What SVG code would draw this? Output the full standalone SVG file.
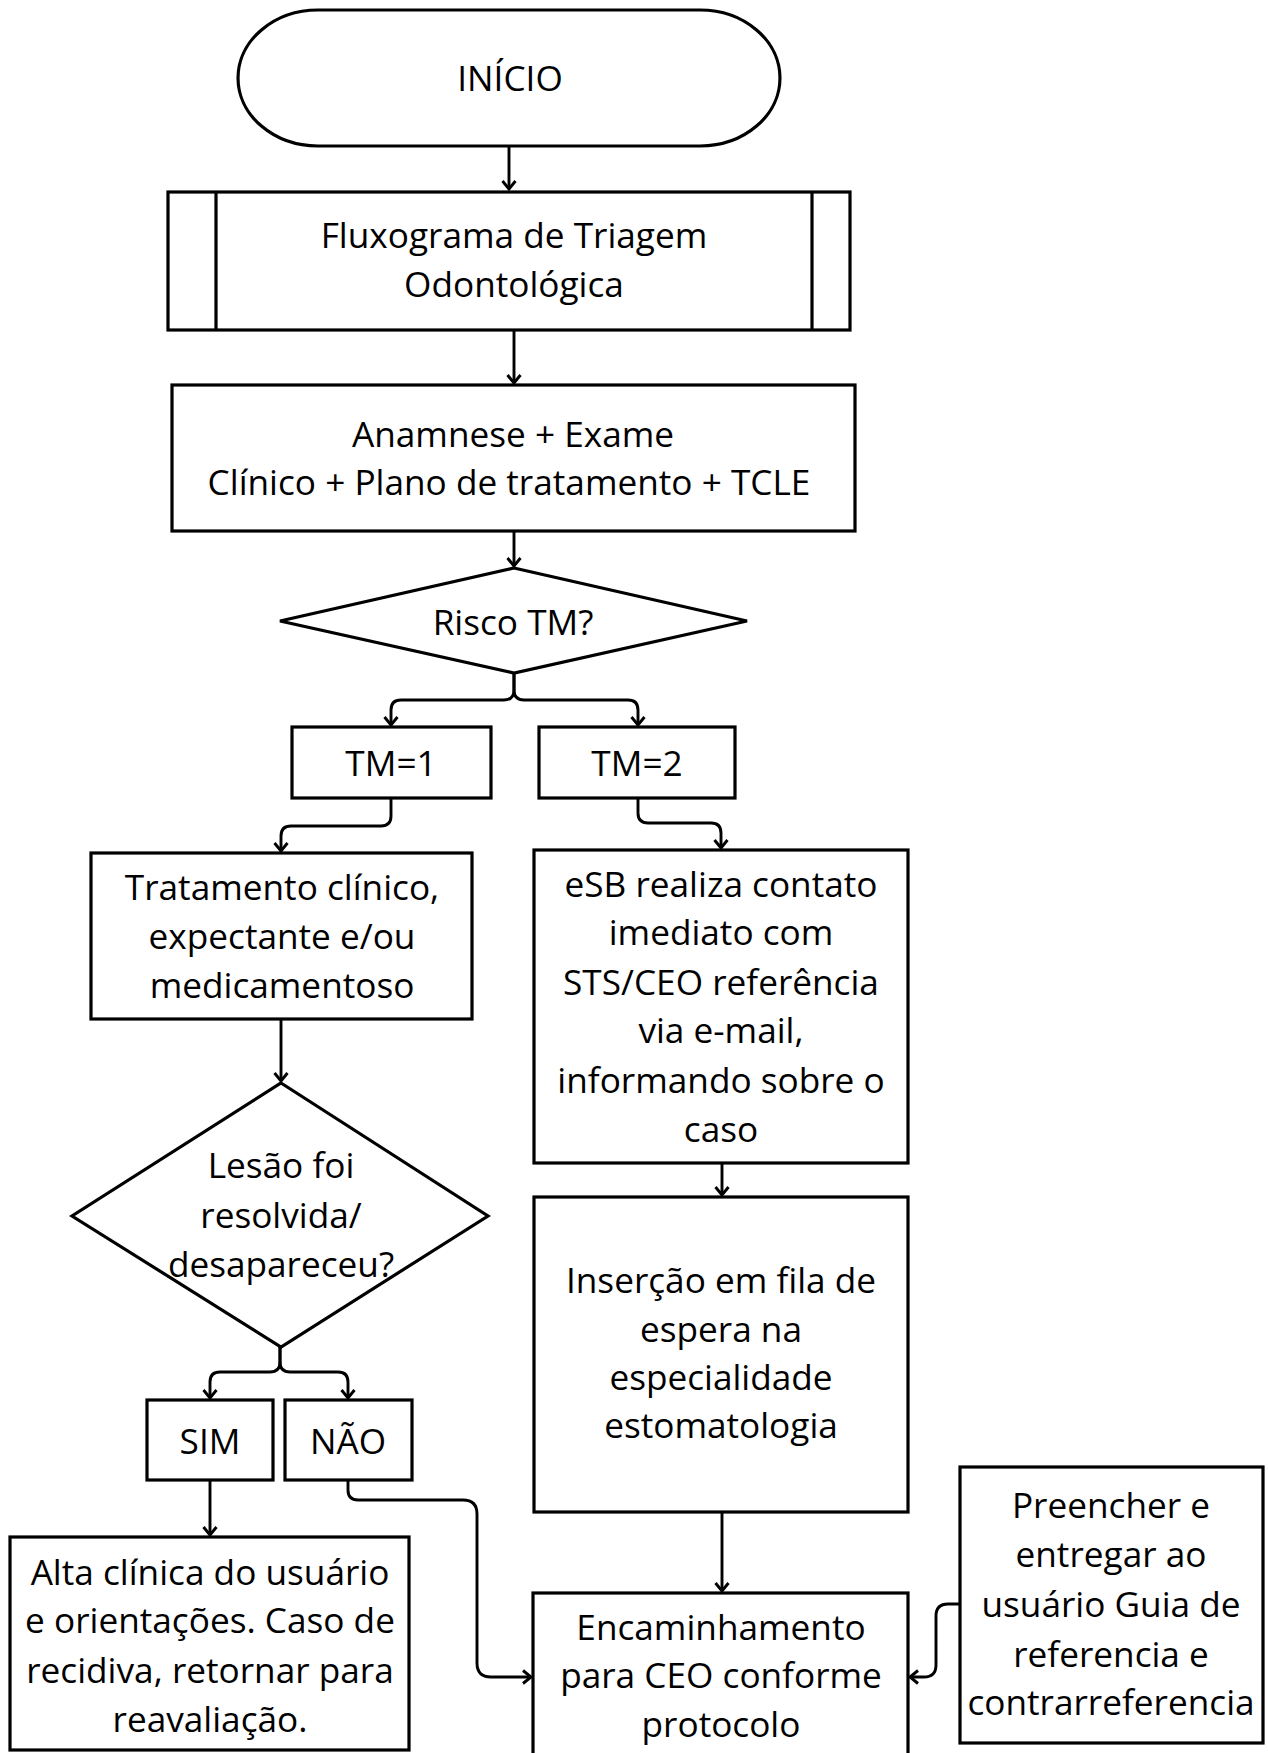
<svg xmlns="http://www.w3.org/2000/svg" width="1268" height="1753" viewBox="0 0 1268 1753">
<style>
.box{fill:#fff;stroke:#000;stroke-width:3.2}
.ln{fill:none;stroke:#000;stroke-width:3.2}
.c{fill:none;stroke:#000;stroke-width:2.9;stroke-linejoin:round}
text{font-family:"Open Sans","Noto Sans","Liberation Sans",sans-serif;font-size:35.2px;fill:#000;text-anchor:middle}
</style>
<defs>
<marker id="ah" markerUnits="userSpaceOnUse" markerWidth="16" markerHeight="16" viewBox="0 0 16 16" refX="14" refY="8" orient="auto">
<path d="M6,1.5 L14,8 L6,14.5" fill="none" stroke="#000" stroke-width="2.9" stroke-linejoin="miter"/>
</marker>
</defs>
<rect width="1268" height="1753" fill="#fff"/>
<g id="connectors">
<path class="c" d="M509,146 V189" marker-end="url(#ah)"/>
<path class="c" d="M514,330 V383" marker-end="url(#ah)"/>
<path class="c" d="M514,531 V566" marker-end="url(#ah)"/>
<path class="c" d="M514,673 V690 Q514,700 504,700 H401 Q391,700 391,710 V725" marker-end="url(#ah)"/>
<path class="c" d="M514,673 V690 Q514,700 524,700 H628 Q638,700 638,710 V725" marker-end="url(#ah)"/>
<path class="c" d="M391,798 V816 Q391,826 381,826 H291 Q281,826 281,836 V851" marker-end="url(#ah)"/>
<path class="c" d="M638,798 V813 Q638,823 648,823 H711 Q721,823 721,833 V848" marker-end="url(#ah)"/>
<path class="c" d="M281,1019 V1081" marker-end="url(#ah)"/>
<path class="c" d="M280,1347 V1362 Q280,1372 270,1372 H220 Q210,1372 210,1382 V1398" marker-end="url(#ah)"/>
<path class="c" d="M280,1347 V1362 Q280,1372 290,1372 H338 Q348,1372 348,1382 V1398" marker-end="url(#ah)"/>
<path class="c" d="M210,1480 V1535" marker-end="url(#ah)"/>
<path class="c" d="M348,1480 V1490 Q348,1500 358,1500 H463 Q477,1500 477,1514 V1663 Q477,1677 491,1677 H531" marker-end="url(#ah)"/>
<path class="c" d="M722,1163 V1195" marker-end="url(#ah)"/>
<path class="c" d="M722,1512 V1591" marker-end="url(#ah)"/>
<path class="c" d="M960,1604 H948 Q936,1604 936,1616 V1665 Q936,1677 924,1677 H910" marker-end="url(#ah)"/>
</g>
<g id="inicio">
<path class="box" d="M318,10 H700 A80,68 0 0 1 700,146 H318 A80,68 0 0 1 318,10 Z"/>
<text x="510" y="91">INÍCIO</text>
</g>
<g id="fluxograma">
<rect class="box" x="168" y="192" width="682" height="138"/>
<line class="ln" x1="216" y1="192" x2="216" y2="330"/>
<line class="ln" x1="812" y1="192" x2="812" y2="330"/>
<text x="514" y="248">Fluxograma de Triagem</text>
<text x="514" y="297">Odontológica</text>
</g>
<g id="anamnese">
<rect class="box" x="172" y="385" width="683" height="146"/>
<text x="513" y="447">Anamnese + Exame</text>
<text x="509" y="495">Clínico + Plano de tratamento + TCLE</text>
</g>
<g id="risco">
<polygon class="box" points="514,568 747,621 514,673 280,621"/>
<text x="513" y="635">Risco TM?</text>
</g>
<g id="tm1">
<rect class="box" x="292" y="727" width="199" height="71"/>
<text x="391" y="776">TM=1</text>
</g>
<g id="tm2">
<rect class="box" x="539" y="727" width="196" height="71"/>
<text x="637" y="776">TM=2</text>
</g>
<g id="tratamento">
<rect class="box" x="91" y="853" width="381" height="166"/>
<text x="282" y="900">Tratamento clínico,</text>
<text x="282" y="949">expectante e/ou</text>
<text x="282" y="998">medicamentoso</text>
</g>
<g id="lesao">
<polygon class="box" points="281,1083 488,1216 281,1347 72,1216"/>
<text x="281" y="1178">Lesão foi</text>
<text x="281" y="1228">resolvida/</text>
<text x="281" y="1277">desapareceu?</text>
</g>
<g id="sim">
<rect class="box" x="147" y="1400" width="126" height="80"/>
<text x="210" y="1454">SIM</text>
</g>
<g id="nao">
<rect class="box" x="285" y="1400" width="127" height="80"/>
<text x="348" y="1454">NÃO</text>
</g>
<g id="alta">
<rect class="box" x="10" y="1537" width="399" height="213"/>
<text x="210" y="1585">Alta clínica do usuário</text>
<text x="210" y="1633">e orientações. Caso de</text>
<text x="210" y="1683">recidiva, retornar para</text>
<text x="210" y="1732">reavaliação.</text>
</g>
<g id="esb">
<rect class="box" x="534" y="850" width="374" height="313"/>
<text x="721" y="897">eSB realiza contato</text>
<text x="721" y="945">imediato com</text>
<text x="721" y="995">STS/CEO referência</text>
<text x="721" y="1043">via e-mail,</text>
<text x="721" y="1093">informando sobre o</text>
<text x="721" y="1142">caso</text>
</g>
<g id="insercao">
<rect class="box" x="534" y="1197" width="374" height="315"/>
<text x="721" y="1293">Inserção em fila de</text>
<text x="721" y="1342">espera na</text>
<text x="721" y="1390">especialidade</text>
<text x="721" y="1438">estomatologia</text>
</g>
<g id="encaminhamento">
<rect class="box" x="533" y="1593" width="375" height="170"/>
<text x="721" y="1640">Encaminhamento</text>
<text x="721" y="1688">para CEO conforme</text>
<text x="721" y="1737">protocolo</text>
</g>
<g id="preencher">
<rect class="box" x="960" y="1467" width="303" height="276"/>
<text x="1111" y="1518">Preencher e</text>
<text x="1111" y="1567">entregar ao</text>
<text x="1111" y="1617">usuário Guia de</text>
<text x="1111" y="1667">referencia e</text>
<text x="1111" y="1715">contrarreferencia</text>
</g>
</svg>
